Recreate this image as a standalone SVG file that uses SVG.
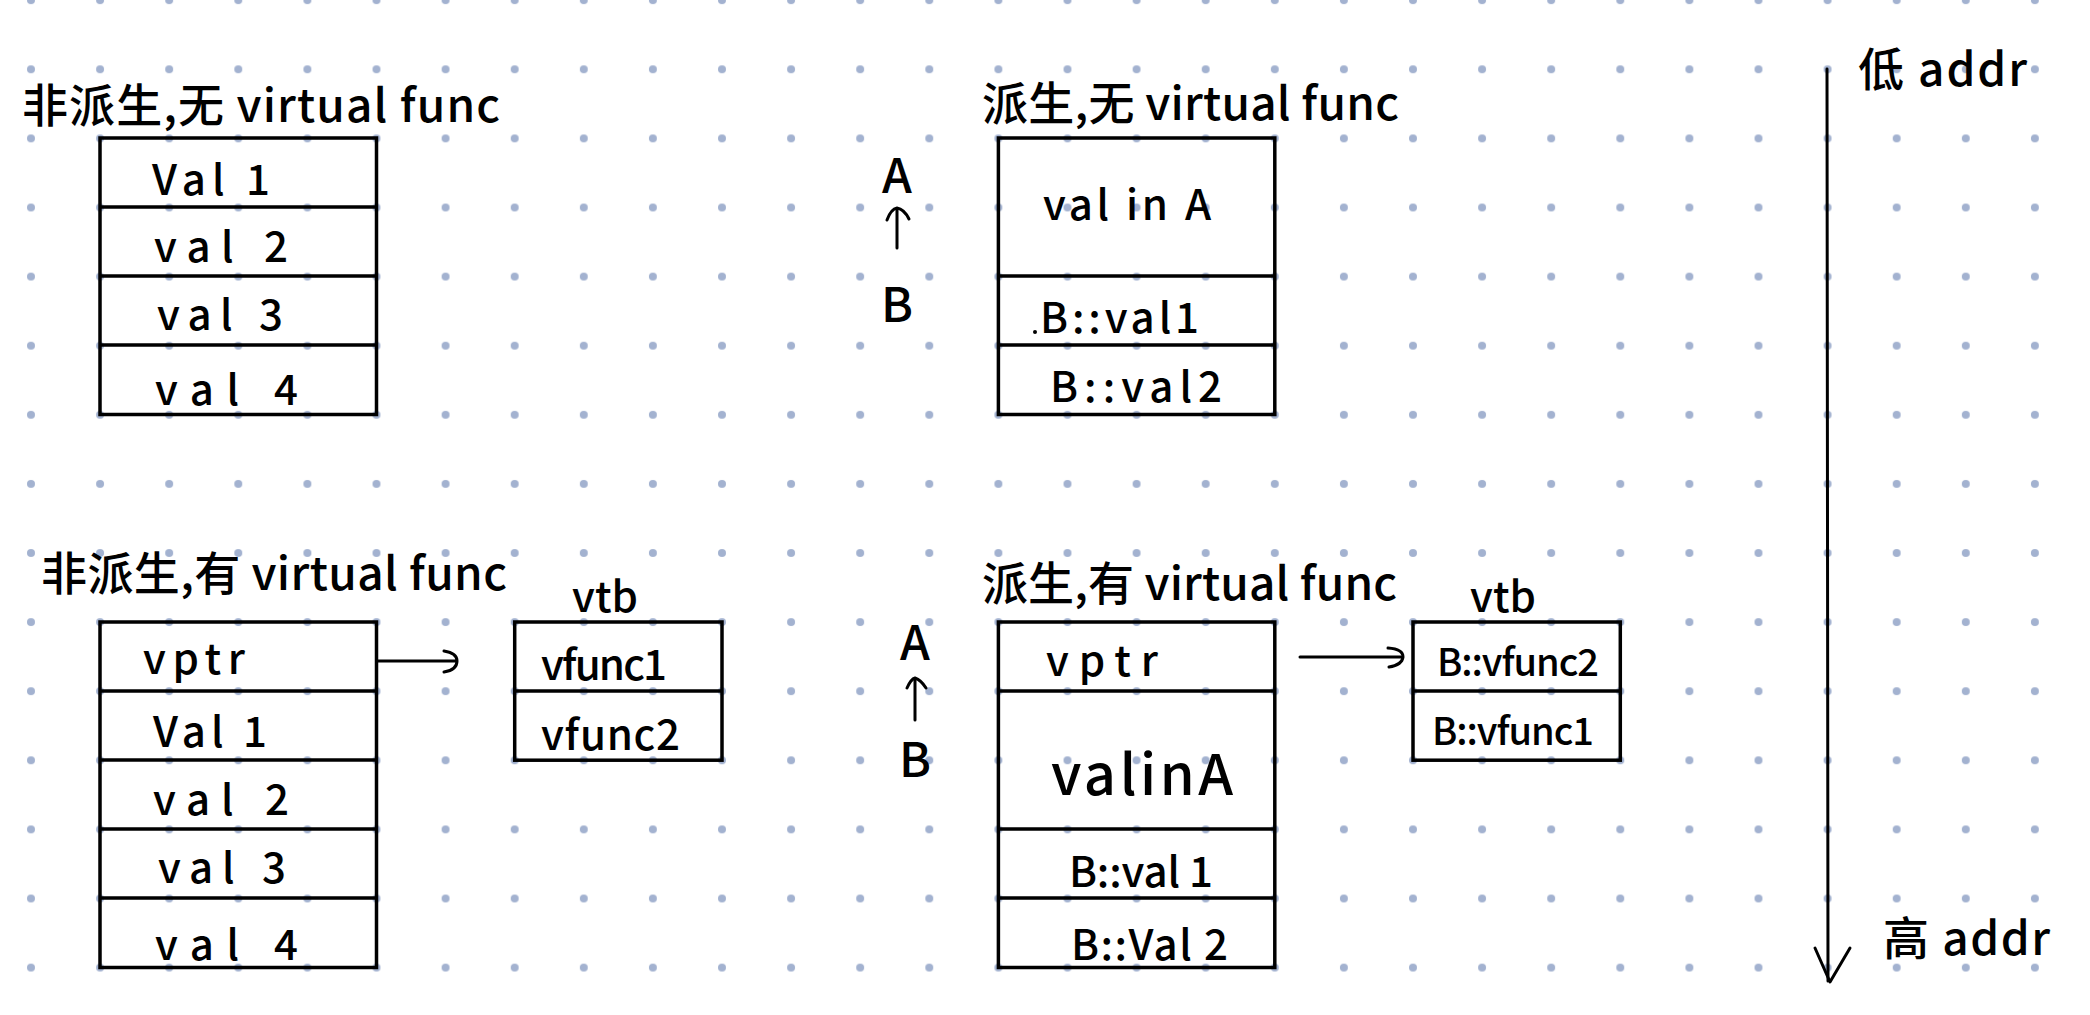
<svg xmlns="http://www.w3.org/2000/svg" width="2090" height="1015" viewBox="0 0 2090 1015">
<defs>
<pattern id="dots" patternUnits="userSpaceOnUse" x="-3.55" y="-34.35" width="69.1" height="69.1">
<circle cx="34.55" cy="34.55" r="4" fill="#a3b2d0"/>
</pattern>
</defs>
<style>
text{font-family:"Noto Sans CJK SC","Noto Sans",sans-serif;fill:#000;font-weight:500;}
.t{font-size:46px;}
.c{font-size:42px;}
.s{font-size:38px;}
.big{font-size:56px;}
.ab{font-size:48px;text-anchor:middle;}
.box{fill:none;stroke:#000;stroke-width:3.5;}
.ln{stroke:#000;stroke-width:3.5;fill:none;}
.cn{stroke:#000;stroke-width:3;fill:none;stroke-linecap:round;stroke-linejoin:round;}
</style>
<rect width="2090" height="1015" fill="#fff"/>
<rect width="2090" height="1015" fill="url(#dots)"/>

<g id="node-nonderived-novirtual">
<text class="t" x="22" y="122" textLength="478" lengthAdjust="spacing">非派生,无 virtual func</text>
<rect class="box" x="100" y="138" width="276.5" height="276.5"/>
<line class="ln" x1="100" y1="207" x2="376.5" y2="207"/>
<line class="ln" x1="100" y1="276" x2="376.5" y2="276"/>
<line class="ln" x1="100" y1="345" x2="376.5" y2="345"/>
<text class="c" x="152" y="195" textLength="118" lengthAdjust="spacing">Val 1</text>
<text class="c" x="154" y="262" textLength="134" lengthAdjust="spacing">val 2</text>
<text class="c" x="157" y="330" textLength="126" lengthAdjust="spacing">val 3</text>
<text class="c" x="155" y="405" textLength="143" lengthAdjust="spacing">val 4</text>
</g>

<g id="node-derived-novirtual">
<text class="t" x="982" y="120" textLength="417" lengthAdjust="spacing">派生,无 virtual func</text>
<rect class="box" x="998.4" y="138" width="276.4" height="276.5"/>
<line class="ln" x1="998.4" y1="276" x2="1274.8" y2="276"/>
<line class="ln" x1="998.4" y1="345" x2="1274.8" y2="345"/>
<text class="c" x="1043" y="220" textLength="168" lengthAdjust="spacing">val in A</text>
<circle cx="1035" cy="332" r="2" fill="#000"/>
<text class="c" x="1040" y="333" textLength="159" lengthAdjust="spacing">B::val1</text>
<text class="c" x="1050" y="402" textLength="172" lengthAdjust="spacing">B::val2</text>
</g>

<g id="node-inherit-1">
<text class="ab" x="897" y="193">A</text>
<text class="ab" x="897" y="322">B</text>
</g>

<g id="node-nonderived-virtual">
<text class="t" x="41" y="590" textLength="466" lengthAdjust="spacing">非派生,有 virtual func</text>
<rect class="box" x="100" y="622" width="276.5" height="345.5"/>
<line class="ln" x1="100" y1="691" x2="376.5" y2="691"/>
<line class="ln" x1="100" y1="760" x2="376.5" y2="760"/>
<line class="ln" x1="100" y1="829" x2="376.5" y2="829"/>
<line class="ln" x1="100" y1="898" x2="376.5" y2="898"/>
<text class="c" x="143" y="674" textLength="102" lengthAdjust="spacing">vptr</text>
<text class="c" x="153" y="747" textLength="114" lengthAdjust="spacing">Val 1</text>
<text class="c" x="153" y="815" textLength="136" lengthAdjust="spacing">val 2</text>
<text class="c" x="158" y="883" textLength="128" lengthAdjust="spacing">val 3</text>
<text class="c" x="155" y="960" textLength="143" lengthAdjust="spacing">val 4</text>
</g>

<g id="node-vtb-1">
<text class="c" x="605" y="612" text-anchor="middle">vtb</text>
<rect class="box" x="514.7" y="622" width="207.3" height="138.2"/>
<line class="ln" x1="514.7" y1="691" x2="722" y2="691"/>
<text class="c" x="541" y="680" textLength="126" lengthAdjust="spacing">vfunc1</text>
<text class="c" x="541" y="750" textLength="139" lengthAdjust="spacing">vfunc2</text>
</g>

<g id="node-derived-virtual">
<text class="t" x="982" y="600" textLength="415" lengthAdjust="spacing">派生,有 virtual func</text>
<rect class="box" x="998.4" y="622" width="276.4" height="345.5"/>
<line class="ln" x1="998.4" y1="691" x2="1274.8" y2="691"/>
<line class="ln" x1="998.4" y1="829" x2="1274.8" y2="829"/>
<line class="ln" x1="998.4" y1="898" x2="1274.8" y2="898"/>
<text class="c" x="1046" y="676" textLength="112" lengthAdjust="spacing">vptr</text>
<text class="big" x="1051" y="795" textLength="182" lengthAdjust="spacing">valinA</text>
<text class="c" x="1069" y="887" textLength="144" lengthAdjust="spacing">B::val 1</text>
<text class="c" x="1071" y="960" textLength="157" lengthAdjust="spacing">B::Val 2</text>
</g>

<g id="node-inherit-2">
<text class="ab" x="915" y="660">A</text>
<text class="ab" x="915" y="777">B</text>
</g>

<g id="node-vtb-2">
<text class="c" x="1503" y="612" text-anchor="middle">vtb</text>
<rect class="box" x="1413" y="622" width="207.3" height="138.2"/>
<line class="ln" x1="1413" y1="691" x2="1620.3" y2="691"/>
<text class="s" x="1437" y="676" textLength="162" lengthAdjust="spacing">B::vfunc2</text>
<text class="s" x="1432" y="745" textLength="162" lengthAdjust="spacing">B::vfunc1</text>
</g>

<g id="node-addr-low">
<text class="t" x="1858" y="86" textLength="169" lengthAdjust="spacing">低 addr</text>
</g>
<g id="node-addr-high">
<text class="t" x="1883" y="955" textLength="167" lengthAdjust="spacing">高 addr</text>
</g>

<g id="connectors">
<line class="cn" x1="378" y1="661" x2="456" y2="661"/>
<path class="cn" d="M444,651 Q457,653 457,661 Q457,670 444,672"/>
<line class="cn" x1="1300" y1="657" x2="1401" y2="657"/>
<path class="cn" d="M1388,648 Q1403,649 1403,657 Q1402,665 1389,667"/>
<line class="cn" x1="897" y1="248" x2="897" y2="209"/>
<path class="cn" d="M887,220 Q891,209 897,208 Q904,209 909,219"/>
<line class="cn" x1="915" y1="720" x2="915" y2="679"/>
<path class="cn" d="M907,688 Q911,679 915,678 Q921,680 926,688"/>
<line class="cn" x1="1827" y1="69" x2="1828" y2="981"/>
<polyline class="cn" points="1815,948 1830,982 1850,948"/>
</g>
</svg>
